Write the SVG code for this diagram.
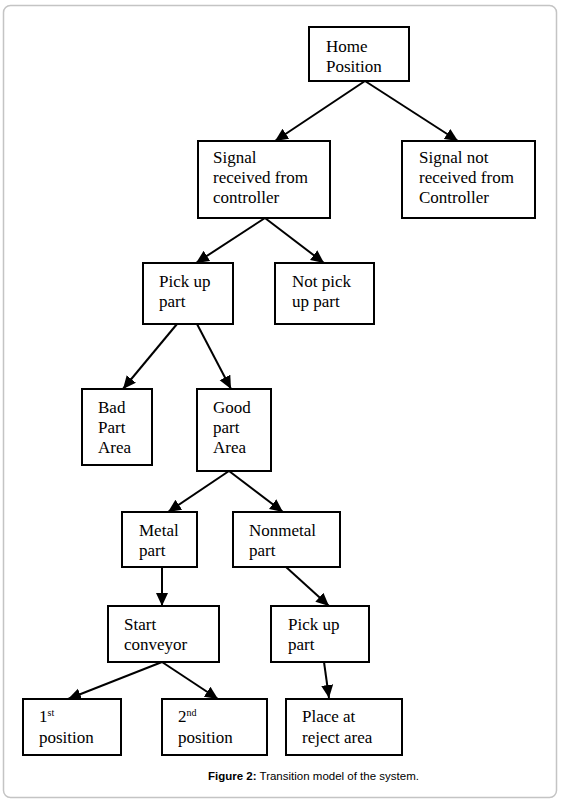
<svg xmlns="http://www.w3.org/2000/svg" width="561" height="801" viewBox="0 0 561 801">
<style>
.box{fill:#fff;stroke:#000;stroke-width:2}
.t{font-family:'Liberation Serif','Times New Roman','DejaVu Serif',serif;font-size:17px;fill:#000}
.sup{font-size:10px}
.c line{stroke:#000;stroke-width:2;marker-end:url(#ah)}
.cap{font-family:'Liberation Sans',Arial,sans-serif;font-size:11.5px;fill:#000}
</style>
<defs>
<marker id="ah" markerUnits="userSpaceOnUse" markerWidth="14" markerHeight="14" viewBox="0 0 14 14" refX="13" refY="7" orient="auto">
<path d="M0,1 L13,7 L0,13 Z" fill="#000"/>
</marker>
</defs>
<rect x="3.5" y="5.5" width="553" height="792" rx="7" fill="#fff" stroke="#c4c4c4" stroke-width="1.5"/>
<g class="c" id="connectors">
<line x1="365" y1="81" x2="275" y2="141"/>
<line x1="365" y1="81" x2="458" y2="141"/>
<line x1="265" y1="218" x2="196" y2="263"/>
<line x1="265" y1="218" x2="324" y2="263"/>
<line x1="177" y1="324" x2="123" y2="389"/>
<line x1="197" y1="324" x2="231" y2="389"/>
<line x1="229" y1="471" x2="168" y2="512"/>
<line x1="229" y1="471" x2="283" y2="512"/>
<line x1="162" y1="567" x2="162" y2="606"/>
<line x1="286" y1="567" x2="329" y2="606"/>
<line x1="324" y1="662" x2="329" y2="698"/>
<line x1="162" y1="662" x2="68" y2="699"/>
<line x1="162" y1="662" x2="218" y2="699"/>
</g>
<g font-family="Liberation Serif, Times New Roman, serif">
<g id="home"><rect class="box" x="309" y="27" width="100" height="54"/>
<text class="t" x="326" y="52">Home</text><text class="t" x="326" y="72">Position</text></g>
<g id="signal"><rect class="box" x="198" y="141" width="132" height="77"/>
<text class="t" x="213" y="163">Signal</text><text class="t" x="213" y="183">received from</text><text class="t" x="213" y="203">controller</text></g>
<g id="nosignal"><rect class="box" x="402" y="141" width="133" height="77"/>
<text class="t" x="419" y="163">Signal not</text><text class="t" x="419" y="183">received from</text><text class="t" x="419" y="203">Controller</text></g>
<g id="pickup"><rect class="box" x="143" y="263" width="90" height="61"/>
<text class="t" x="159" y="287">Pick up</text><text class="t" x="159" y="307">part</text></g>
<g id="notpickup"><rect class="box" x="275" y="263" width="99" height="61"/>
<text class="t" x="292" y="287">Not pick</text><text class="t" x="292" y="307">up part</text></g>
<g id="bad"><rect class="box" x="82" y="389" width="70" height="76"/>
<text class="t" x="98" y="413">Bad</text><text class="t" x="98" y="433">Part</text><text class="t" x="98" y="453">Area</text></g>
<g id="good"><rect class="box" x="197" y="389" width="74" height="82"/>
<text class="t" x="213" y="413">Good</text><text class="t" x="213" y="433">part</text><text class="t" x="213" y="453">Area</text></g>
<g id="metal"><rect class="box" x="122" y="512" width="75" height="55"/>
<text class="t" x="139" y="536">Metal</text><text class="t" x="139" y="556">part</text></g>
<g id="nonmetal"><rect class="box" x="233" y="512" width="107" height="55"/>
<text class="t" x="249" y="536">Nonmetal</text><text class="t" x="249" y="556">part</text></g>
<g id="conveyor"><rect class="box" x="108" y="606" width="111" height="56"/>
<text class="t" x="124" y="630">Start</text><text class="t" x="124" y="650">conveyor</text></g>
<g id="pickup2"><rect class="box" x="271" y="606" width="98" height="56"/>
<text class="t" x="288" y="630">Pick up</text><text class="t" x="288" y="650">part</text></g>
<g id="pos1"><rect class="box" x="23" y="699" width="98" height="56"/>
<text class="t" x="39" y="722">1<tspan class="sup" dy="-6">st</tspan></text><text class="t" x="39" y="743">position</text></g>
<g id="pos2"><rect class="box" x="162" y="699" width="105" height="56"/>
<text class="t" x="178" y="722">2<tspan class="sup" dy="-6">nd</tspan></text><text class="t" x="178" y="743">position</text></g>
<g id="reject"><rect class="box" x="286" y="699" width="116" height="56"/>
<text class="t" x="302" y="722">Place at</text><text class="t" x="302" y="743">reject area</text></g>
</g>
<text class="cap" x="208" y="780"><tspan font-weight="bold">Figure 2:</tspan> Transition model of the system.</text>
</svg>
